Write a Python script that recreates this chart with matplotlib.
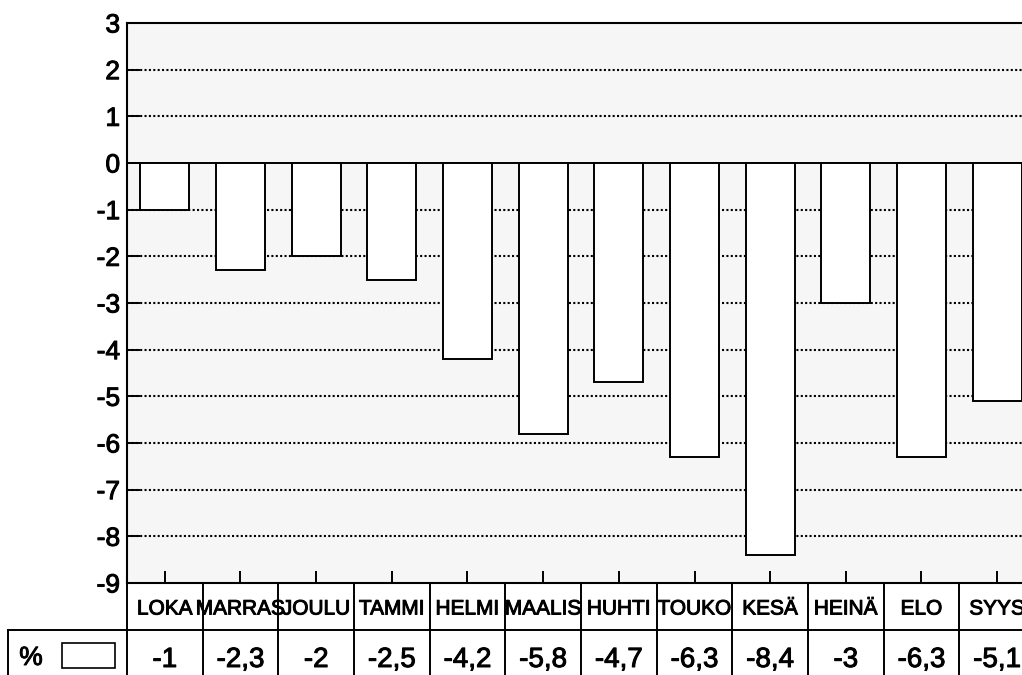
import numpy as np
import matplotlib
matplotlib.use("Agg")
import matplotlib.pyplot as plt
from matplotlib.patches import Rectangle
import matplotlib.patheffects as pe

plt.rcParams['font.family'] = ['Liberation Sans', 'DejaVu Sans']

kuukaudet = ["LOKA", "MARRAS", "JOULU", "TAMMI", "HELMI", "MAALIS",
             "HUHTI", "TOUKO", "KESÄ", "HEINÄ", "ELO", "SYYS"]
muutos = [-1, -2.3, -2, -2.5, -4.2, -5.8, -4.7, -6.3, -8.4, -3, -6.3, -5.1]
yticks = list(range(-9, 4))

# skannatun tekstin paksuus
paksu = [pe.withStroke(linewidth=0.7, foreground='black')]

fig = plt.figure(figsize=(10.22, 6.75), dpi=100)
ax = fig.add_axes([127/1022, 92/675, 908/1022, 560/675])
ax.set_facecolor('#f6f6f6')

x = np.arange(len(kuukaudet))

# pisteviivat
for y in yticks:
    if y in (-9, 0, 3):
        continue
    ax.axhline(y, color='black', lw=1.5, ls=(0, (1, 1.1)), zorder=1)
ax.axhline(0, color='black', lw=1.4, zorder=1)

ax.bar(x, muutos, width=0.65, color='white', edgecolor='black', lw=1.4, zorder=2)

ax.set_xlim(-0.5, len(kuukaudet) - 0.5)
ax.set_ylim(-9, 3)
ax.set_yticks(yticks)
ax.set_yticklabels([str(v) for v in yticks], fontsize=19)
for t in ax.get_yticklabels():
    t.set_path_effects(paksu)
ax.set_xticks(x)
ax.set_xticklabels([])
ax.tick_params(axis='both', direction='in', length=9, width=1.4, pad=5)
for s in ax.spines.values():
    s.set_linewidth(1.5)

# taulukko akselin alle
tr = ax.get_xaxis_transform()
ph = 560.0
r1 = -47 / ph
r2 = -95 / ph
kw = dict(color='black', lw=1.4, clip_on=False, transform=tr)
ax.plot([-0.5, len(kuukaudet) - 0.5], [r1, r1], **kw)
for i in range(len(kuukaudet) + 1):
    ax.plot([i - 0.5, i - 0.5], [0, r2], **kw)

for i, (k, v) in enumerate(zip(kuukaudet, muutos)):
    ax.text(i, -26 / ph, k, ha='center', va='center', fontsize=15,
            transform=tr, clip_on=False, path_effects=paksu)
    ax.text(i, -77 / ph, ("%g" % v).replace('.', ','), ha='center', va='center',
            fontsize=20, transform=tr, clip_on=False, path_effects=paksu)

# otsikkosolu vasemmalla
fig.add_artist(plt.Line2D([8/1022, 127/1022], [1 - 630/675, 1 - 630/675], color='black', lw=1.4))
fig.add_artist(plt.Line2D([8/1022, 8/1022], [1 - 630/675, 0], color='black', lw=1.4))
fig.text(31/1022, 1 - 658/675, "%", ha='center', va='center', fontsize=19, path_effects=paksu)
fig.add_artist(Rectangle((62/1022, 1 - 668/675), 53/1022, 25/675, facecolor='white',
                         edgecolor='black', lw=1.2))

fig.savefig("out.png", dpi=100)
